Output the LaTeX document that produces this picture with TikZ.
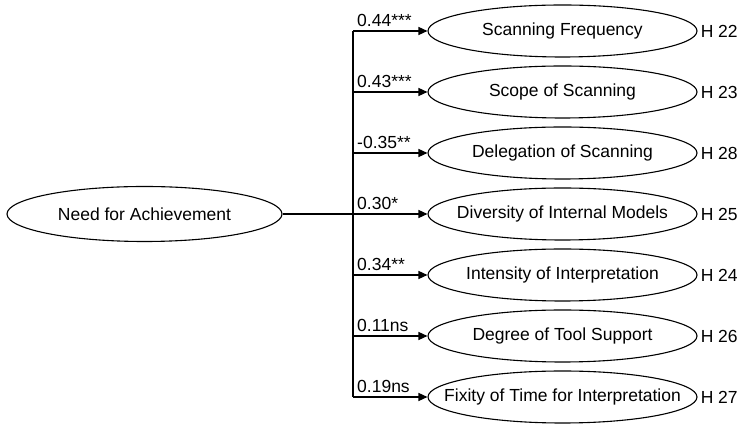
\documentclass[tikz,border=0pt]{standalone}
\usepackage{fontspec}
\setmainfont{Liberation Sans}
\usetikzlibrary{shapes.geometric,arrows.meta}
% zero-width text so the ellipse keeps its fixed size
\newcommand{\fixedlabel}[1]{\makebox[0pt]{#1}}
\begin{document}
\begin{tikzpicture}[x=1pt,y=1pt,
  lettering/.style={font=\fontsize{17.5}{20}\selectfont},
  construct/.style={ellipse,draw,line width=1.1pt,inner sep=0pt,lettering,
    minimum width=269pt,minimum height=52pt},
  pathlink/.style={line width=1.4pt,-{Triangle[length=9pt,width=8pt]}},
  coef/.style={anchor=south west,inner sep=0pt,lettering},
  hyp/.style={anchor=west,inner sep=0pt,lettering}]
\useasboundingbox (0,0) rectangle (742,425);
% predictor
\node[construct,minimum width=275pt,minimum height=55pt] (need) at (144.5,211) {\fixedlabel{Need for Achievement}};
% outcomes
\node[construct] (t1) at (562.5,394) {\fixedlabel{Scanning Frequency}};
\node[construct] (t2) at (562.5,333) {\fixedlabel{Scope of Scanning}};
\node[construct] (t3) at (562.5,272) {\fixedlabel{Delegation of Scanning}};
\node[construct] (t4) at (562.5,211) {\fixedlabel{Diversity of Internal Models}};
\node[construct] (t5) at (562.5,150) {\fixedlabel{Intensity of Interpretation}};
\node[construct] (t6) at (562.5,89) {\fixedlabel{Degree of Tool Support}};
\node[construct] (t7) at (562.5,28) {\fixedlabel{Fixity of Time for Interpretation}};
% branching bus
\coordinate (bt) at (353,394);
\coordinate (bb) at (353,28);
\coordinate (bm) at (353,211);
\draw[line width=1.4pt] (need.east) -- (bm);
\draw[line width=1.4pt] (bt) -- (bb);
\foreach \i/\c/\h in {1/0.44***/22,2/0.43***/23,3/-0.35**/28,4/0.30*/25,5/0.34**/24,6/0.11ns/26,7/0.19ns/27}{
  \coordinate (s\i) at (353,0 |- t\i.west);
  \draw[pathlink] (s\i) -- (t\i.west);
  \node[coef] (c\i) at ([xshift=4pt,yshift=4pt]s\i) {\c};
  \node[hyp] (h\i) at ([xshift=3pt]t\i.east) {H \h};
}
\end{tikzpicture}
\end{document}
